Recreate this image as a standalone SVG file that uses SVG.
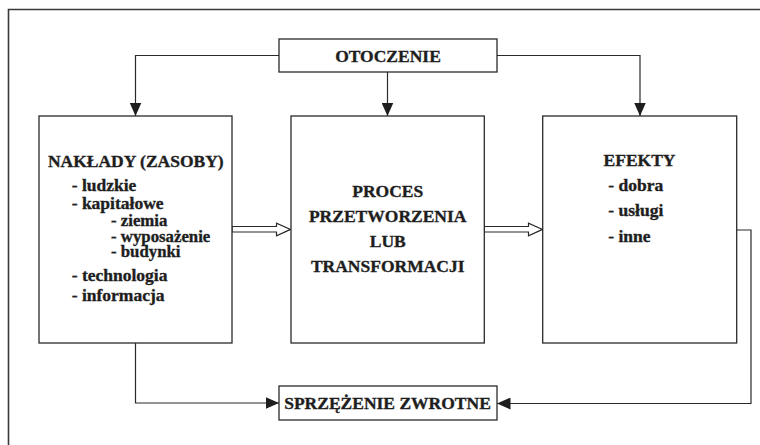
<svg xmlns="http://www.w3.org/2000/svg" width="760" height="445" viewBox="0 0 760 445">
<style>
.frame{fill:none;stroke:#3a3a3a;stroke-width:1.6}
.box{fill:#fff;stroke:#2a2a2a;stroke-width:1.3}
.ln{fill:none;stroke:#2a2a2a;stroke-width:1.2}
.hollow{fill:#fff;stroke:#2a2a2a;stroke-width:1.2;stroke-linejoin:miter}
text{font-family:"Liberation Serif","Times New Roman",serif;font-weight:bold;font-size:17.5px;fill:#1e1e1e;stroke:#1e1e1e;stroke-width:0.35}
.c{text-anchor:middle}
.s{font-size:16.8px}
</style>
<defs>
<marker id="ah" markerUnits="userSpaceOnUse" markerWidth="14" markerHeight="12" refX="13.5" refY="6" orient="auto">
<path d="M0,0 L13.5,6 L0,12 Z" fill="#1e1e1e"/>
</marker>
</defs>
<rect width="760" height="445" fill="#fff"/>
<path class="frame" d="M8.5,450 V9.5 H770"/>
<g id="connectors">
<path class="ln" d="M279,55.5 H135.5 V116" marker-end="url(#ah)"/>
<path class="ln" d="M387.5,72 V116" marker-end="url(#ah)"/>
<path class="ln" d="M497,55.5 H640 V116" marker-end="url(#ah)"/>
<polygon class="hollow" points="232,226.5 276.5,226.5 276.5,223.2 290.5,229.4 276.5,235.8 276.5,232 232,232"/>
<polygon class="hollow" points="484.3,226.5 528.5,226.5 528.5,223.2 542.5,229.4 528.5,235.8 528.5,232 484.3,232"/>
<path class="ln" d="M135.5,343 V403 H279" marker-end="url(#ah)"/>
<path class="ln" d="M736.7,230 H751 V403.5 H497" marker-end="url(#ah)"/>
</g>
<g id="otoczenie">
<rect class="box" x="279" y="39" width="218" height="33"/>
<text class="c" x="388" y="61.5">OTOCZENIE</text>
</g>
<g id="naklady">
<rect class="box" x="39" y="116" width="193" height="227"/>
<text class="c" x="135.8" y="166.5">NAKŁADY (ZASOBY)</text>
<text x="71.7" y="190.5">- ludzkie</text>
<text x="71.7" y="209">- kapitałowe</text>
<text class="s" x="111" y="226">- ziemia</text>
<text class="s" x="111" y="241.5">- wyposażenie</text>
<text class="s" x="111" y="256.5">- budynki</text>
<text x="71.7" y="281">- technologia</text>
<text x="71.7" y="301">- informacja</text>
</g>
<g id="proces">
<rect class="box" x="291" y="116" width="193.3" height="227"/>
<text class="c" x="387.7" y="196.7">PROCES</text>
<text class="c" x="387.7" y="221.7">PRZETWORZENIA</text>
<text class="c" x="387.7" y="247.3">LUB</text>
<text class="c" x="387.7" y="272.3">TRANSFORMACJI</text>
</g>
<g id="efekty">
<rect class="box" x="542.7" y="116" width="194" height="227"/>
<text class="c" x="639.5" y="165.7">EFEKTY</text>
<text x="608.3" y="190.7">- dobra</text>
<text x="608.3" y="216">- usługi</text>
<text x="608.3" y="241.5">- inne</text>
</g>
<g id="sprzezenie">
<rect class="box" x="279" y="386" width="218" height="34"/>
<text class="c" x="387.5" y="408.8">SPRZĘŻENIE ZWROTNE</text>
</g>
</svg>
